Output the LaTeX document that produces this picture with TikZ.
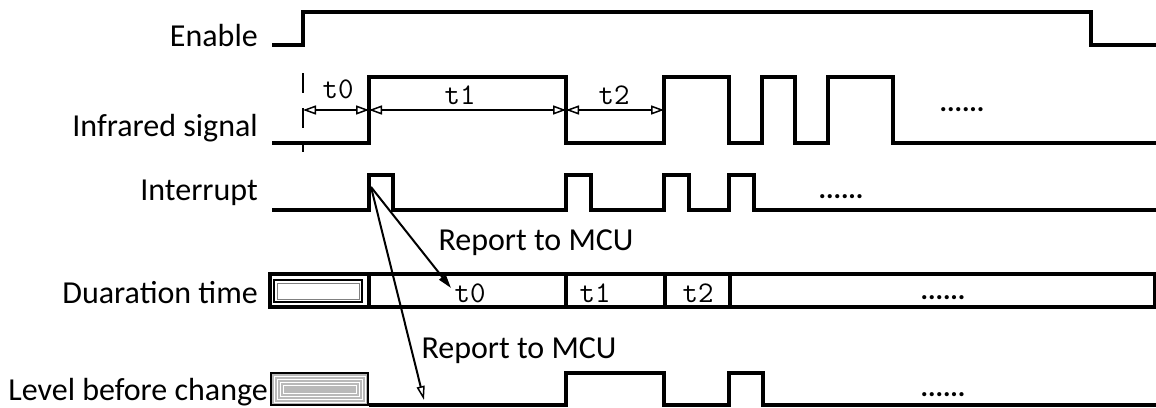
\documentclass[tikz,border=0pt]{standalone}
\usepackage{fontspec}
\setmainfont{Carlito}
\usetikzlibrary{arrows.meta}
\begin{document}
\begin{tikzpicture}[x=1pt,y=-1pt,
  sig/.style={line width=3.2pt, line join=miter},
  lbl/.style={anchor=east, inner sep=0pt, font=\fontsize{32}{36}\selectfont},
  rep/.style={inner sep=0pt, font=\fontsize{32}{36}\selectfont},
  tlab/.style={inner sep=0pt, font=\ttfamily\fontsize{30}{32}\selectfont},
  dots/.style={inner sep=0pt, anchor=base, font=\bfseries\fontsize{28}{30}\selectfont},
  dim/.style={line width=2pt, {Triangle[open,length=13pt,width=9pt,line width=1.5pt]}-{Triangle[open,length=13pt,width=9pt,line width=1.5pt]}},
  rpt/.style={line width=2pt, -{Triangle[length=14pt,width=8pt]}},
  rpto/.style={line width=2pt, -{Triangle[open,length=14pt,width=8pt,line width=1.5pt]}},
  barline/.style={line width=3.2pt}]
\useasboundingbox (0,0) rectangle (1156,407);

% labels
\node[lbl] (lEn) at (258,36) {Enable};
\node[lbl] (lIr) at (258,128) {Infrared signal};
\node[lbl] (lInt) at (258,193) {Interrupt};
\node[lbl] (lDur) at (258,293) {Duaration time};
\node[lbl] (lLev) at (268,392) {Level before change};

% Enable
\draw[sig] (272,45) -- (303,45) -- (303,12) -- (1091,12) -- (1091,45) -- (1156,45);

% Infrared
\draw[sig] (272,143) -- (369,143) -- (369,77) -- (566,77) -- (566,143) -- (664,143)
  -- (664,77) -- (729,77) -- (729,143) -- (762,143) -- (762,77) -- (795,77)
  -- (795,143) -- (828,143) -- (828,77) -- (893,77) -- (893,143) -- (1156,143);
\draw[line width=2pt, dash pattern=on 20pt off 15pt] (303,73) -- (303,152);
\coordinate (a0) at (303,110);
\coordinate (a1) at (369,110);
\coordinate (a2) at (566,110);
\coordinate (a3) at (664,110);
\draw[dim] (a0) -- (a1);
\draw[dim] (a1) -- (a2);
\draw[dim] (a2) -- (a3);
\node[tlab] (t0) at (338,89) {t0};
\node[tlab] (t1) at (460,95) {t1};
\node[tlab] (t2) at (614,95) {t2};
\node[dots] (irdots) at (962,111) {......};

% Interrupt
\draw[sig] (272,210) -- (369,210) -- (369,175) -- (393,175) -- (393,210) -- (566,210)
  -- (566,175) -- (591,175) -- (591,210) -- (664,210) -- (664,175) -- (689,175)
  -- (689,210) -- (729,210) -- (729,175) -- (754,175) -- (754,210) -- (1156,210);
\node[dots] (intdots) at (841,198) {......};

% Duration bar
\draw[barline] (270,274) rectangle (1155,307);
\foreach \x/\n in {369/b1,566/b2,665/b3,730/b4}
  \draw[barline] (\x,274) -- (\x,307);
\draw[line width=1.5pt, fill=white] (274,280) rectangle (362,302);
\draw[line width=0.6pt, gray] (277,283) rectangle (359,299);
\node[tlab] (d0) at (470,293) {t0};
\node[tlab] (d1) at (595,293) {t1};
\node[tlab] (d2) at (698,293) {t2};
\node[dots] (durdots) at (943,299) {......};

% Level before change
\draw[sig] (369,405) -- (566,405) -- (566,373) -- (664,373) -- (664,405) -- (729,405)
  -- (729,373) -- (763,373) -- (763,405) -- (1156,405);
\draw[line width=1.5pt, fill=gray!55] (271,373) rectangle (368,405);
\foreach \d in {3,6,9,12}
  \draw[line width=0.8pt, white] (271+\d,373+\d) rectangle (368-\d,405-\d);
\node[dots] (levdots) at (943,396) {......};

% Report arrows
\coordinate (src) at (371,187);
\coordinate (dst2) at (424,400);
\draw[rpt] (src) -- (451,288);
\draw[rpto] (src) -- (dst2);
\node[rep] (r1) at (536,243) {Report to MCU};
\node[rep] (r2) at (519,351) {Report to MCU};
\end{tikzpicture}
\end{document}
